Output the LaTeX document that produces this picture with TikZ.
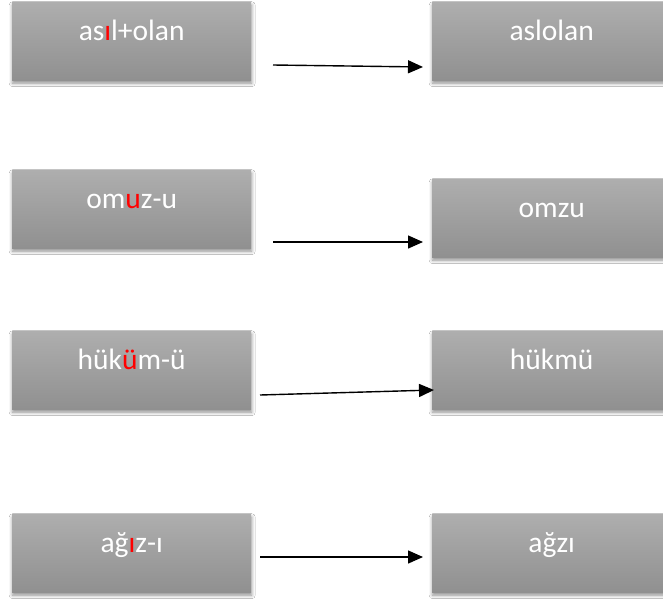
\documentclass[tikz,border=0pt]{standalone}
\usepackage{fontspec}
\setmainfont{Carlito}
\usetikzlibrary{arrows.meta,shadows.blur}

\definecolor{boxtop}{HTML}{AEAEAE}
\definecolor{boxbot}{HTML}{909090}
\definecolor{mark}{HTML}{FF0000}

\tikzset{
  wordbox/.style={
    rectangle, anchor=north west,
    minimum width=239pt, inner xsep=0pt, inner ysep=0pt,
    text height=38pt, text depth=40pt,
    top color=boxtop, bottom color=boxbot,
    text=white, font=\fontsize{29.5}{33}\selectfont,
    blur shadow={shadow xshift=0.5pt, shadow yshift=-3pt,
                 shadow blur radius=3.5pt, shadow opacity=45}
  },
  link/.style={line width=1.4pt, -{Triangle[length=15pt,width=13pt]}}
}
\newcommand{\rl}[1]{\textcolor{mark}{#1}}

\begin{document}
\begin{tikzpicture}[x=1pt,y=-1pt]
  \clip (0,0) rectangle (663,600);
  \fill[white] (0,0) rectangle (663,600);

  % source words
  \node[wordbox] (s1) at (12,2)   {as\rl{ı}l+olan};
  \node[wordbox] (s2) at (12,170) {om\rl{u}z-u};
  \node[wordbox] (s3) at (12,331) {hük\rl{ü}m-ü};
  \node[wordbox] (s4) at (12,514) {ağ\rl{ı}z-ı};

  % resulting words
  \node[wordbox] (t1) at (432,2)   {aslolan};
  \node[wordbox] (t2) at (432,179) {omzu};
  \node[wordbox] (t3) at (432,331) {hükmü};
  \node[wordbox] (t4) at (432,514) {ağzı};

  % arrow end points
  \coordinate (a1) at (273,65);  \coordinate (b1) at (423,67);
  \coordinate (a2) at (273,242); \coordinate (b2) at (423,242);
  \coordinate (a3) at (260,395); \coordinate (b3) at (434,390);
  \coordinate (a4) at (260,557); \coordinate (b4) at (423,557);

  \draw[link] (a1) -- (b1);
  \draw[link] (a2) -- (b2);
  \draw[link] (a3) -- (b3);
  \draw[link] (a4) -- (b4);
\end{tikzpicture}
\end{document}
